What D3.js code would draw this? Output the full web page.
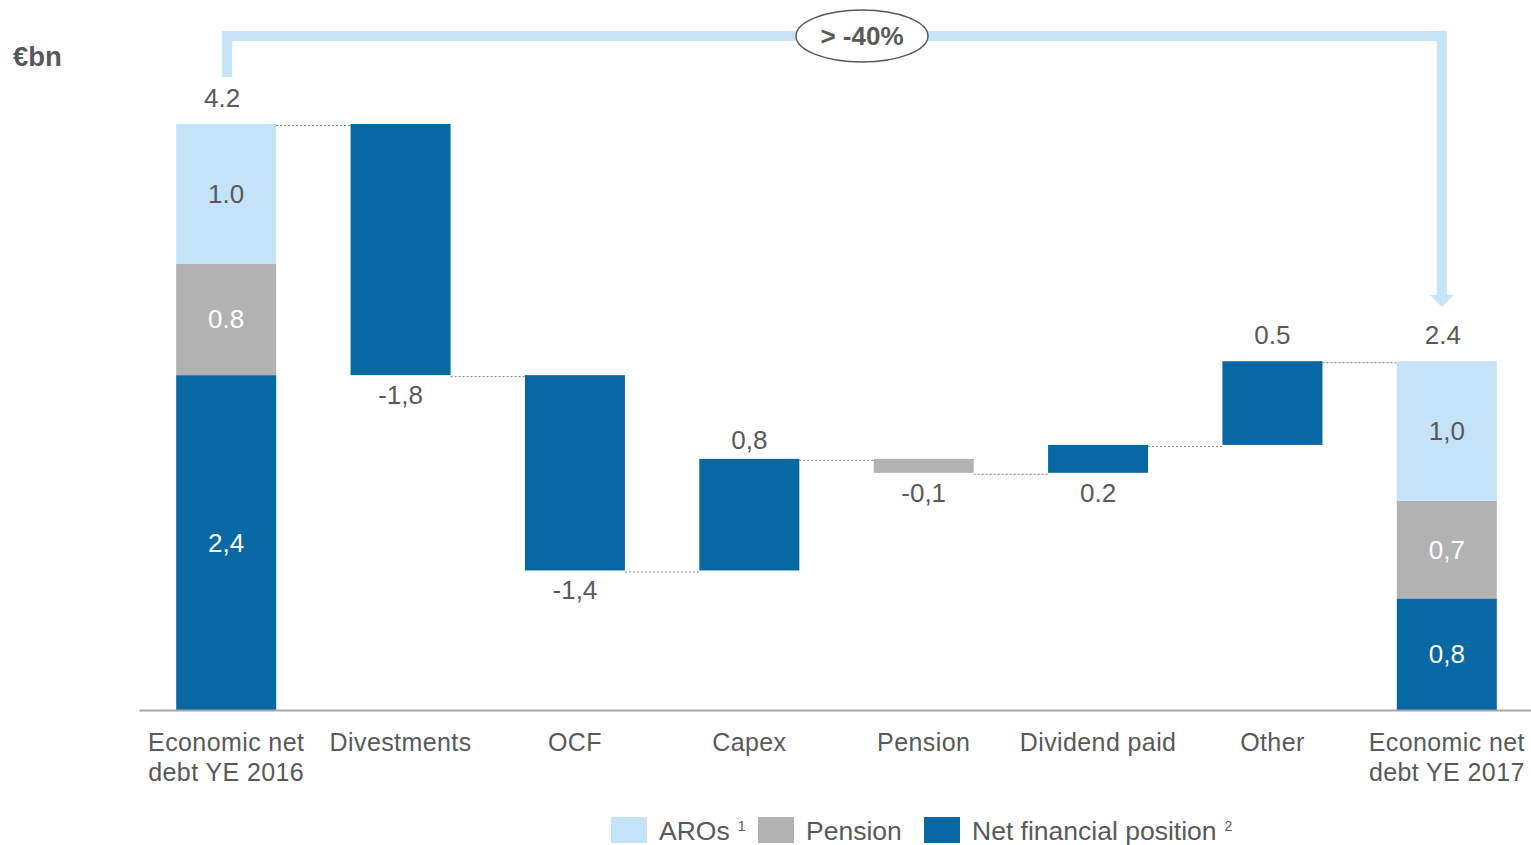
<!DOCTYPE html>
<html>
<head>
<meta charset="utf-8">
<script src="https://cdn.jsdelivr.net/npm/d3@7"></script>
<style>
  html, body { margin: 0; padding: 0; background: #fff; }
  svg { display: block; font-family: "Liberation Sans", Arial, sans-serif; }
</style>
</head>
<body>
<svg id="chart" width="1531" height="845"></svg>
<script>
// ---------------- data ----------------
const categories = ["Economic net debt YE 2016", "Divestments", "OCF", "Capex", "Pension", "Dividend paid", "Other", "Economic net debt YE 2017"];
const tickLines = [["Economic net", "debt YE 2016"], ["Divestments"], ["OCF"], ["Capex"], ["Pension"], ["Dividend paid"], ["Other"], ["Economic net", "debt YE 2017"]];
const barKind = ["total", "delta", "delta", "delta", "delta", "delta", "delta", "total"];

// stacked totals (first and last bars)
const arosValues    = [1.0, null, null, null, null, null, null, 1.0];
const pensionValues = [0.8, null, null, null, null, null, null, 0.7];
const nfpValues     = [2.4, null, null, null, null, null, null, 0.8];
const arosLabels    = ["1.0", null, null, null, null, null, null, "1,0"];
const pensionLabels = ["0.8", null, null, null, null, null, null, "0,7"];
const nfpLabels     = ["2,4", null, null, null, null, null, null, "0,8"];
const totalLabels   = ["4.2", null, null, null, null, null, null, "2.4"];

// bridge movements (as drawn)
const deltaValues = [null, -1.8, -1.4, 0.8, -0.1, 0.2, 0.6, null];
const deltaSeries = [null, "nfp", "nfp", "nfp", "pension", "nfp", "nfp", null];
const deltaLabels = [null, "-1,8", "-1,4", "0,8", "-0,1", "0.2", "0.5", null];

const seriesNames = ["AROs", "Pension", "Net financial position"];
const seriesKeys = ["aros", "pension", "nfp"];
const seriesSup = ["1", "", "2"];
const unitLabel = "€bn";
const changeLabel = "> -40%";
const yMax = 4.2;

// ---------------- drawing ----------------
const colors = { aros: "#C4E3F9", pension: "#B2B2B2", nfp: "#0868A4" };
const textColor = "#595959";
const svg = d3.select("#chart");

const x = d3.scaleBand().domain(categories).range([139, 1534]).paddingInner(0.4265).paddingOuter(0.21325);
const y = d3.scaleLinear().domain([0, yMax]).range([710, 124]);

// build bar segments
const segs = [];
const levels = [];
let running = 0;
categories.forEach((c, i) => {
  if (barKind[i] === "total") {
    let base = 0;
    const parts = [
      { key: "nfp", v: nfpValues[i], label: nfpLabels[i] },
      { key: "pension", v: pensionValues[i], label: pensionLabels[i] },
      { key: "aros", v: arosValues[i], label: arosLabels[i] }
    ];
    parts.forEach(p => {
      segs.push({ cat: c, key: p.key, y0: base, y1: base + p.v, label: p.label, inside: true });
      base += p.v;
    });
    running = base;
    levels.push([0, base]);
  } else {
    const start = running, end = running + deltaValues[i];
    segs.push({ cat: c, key: deltaSeries[i], y0: Math.min(start, end), y1: Math.max(start, end), label: null });
    levels.push([start, end]);
    running = end;
  }
});

// connectors (dotted)
const conn = svg.append("g");
for (let i = 0; i < categories.length - 1; i++) {
  const lvl = levels[i][1];
  conn.append("line")
    .attr("x1", x(categories[i]) + x.bandwidth())
    .attr("x2", x(categories[i + 1]))
    .attr("y1", y(lvl) + 1.5).attr("y2", y(lvl) + 1.5)
    .attr("stroke", "#7f7f7f").attr("stroke-width", 1).attr("stroke-dasharray", "2,2");
}

// bars
svg.append("g").selectAll("rect").data(segs).join("rect")
  .attr("x", d => x(d.cat))
  .attr("width", x.bandwidth())
  .attr("y", d => y(d.y1))
  .attr("height", d => y(d.y0) - y(d.y1))
  .attr("fill", d => colors[d.key]);

// inside labels of stacked totals
svg.append("g").selectAll("text").data(segs.filter(d => d.inside)).join("text")
  .attr("x", d => x(d.cat) + x.bandwidth() / 2)
  .attr("y", d => (y(d.y0) + y(d.y1)) / 2 + 9)
  .attr("text-anchor", "middle")
  .attr("font-size", 26)
  .attr("fill", d => d.key === "aros" ? textColor : "#ffffff")
  .text(d => d.label);

// total labels above
categories.forEach((c, i) => {
  if (barKind[i] === "total") {
    svg.append("text")
      .attr("x", x(c) + x.bandwidth() / 2 - 4)
      .attr("y", y(levels[i][1]) - 17)
      .attr("text-anchor", "middle").attr("font-size", 26).attr("fill", textColor)
      .text(totalLabels[i]);
  }
});

// delta labels
const below = new Set(["Divestments", "OCF", "Pension", "Dividend paid"]);
categories.forEach((c, i) => {
  if (barKind[i] !== "delta") return;
  const top = Math.max(levels[i][0], levels[i][1]);
  const bot = Math.min(levels[i][0], levels[i][1]);
  const isBelow = below.has(c);
  svg.append("text")
    .attr("x", x(c) + x.bandwidth() / 2)
    .attr("y", isBelow ? y(bot) + 29 : y(top) - (c === "Capex" ? 10 : 17))
    .attr("text-anchor", "middle").attr("font-size", 26).attr("fill", textColor)
    .text(deltaLabels[i]);
});

// x axis
const xAxis = d3.axisBottom(x).tickSize(0).tickFormat("");
const ax = svg.append("g").attr("transform", "translate(0,710)").call(xAxis);
ax.select(".domain").attr("stroke", "#A6A6A6").attr("stroke-width", 2);
ax.selectAll(".tick").each(function (d, i) {
  const t = d3.select(this).append("text")
    .attr("text-anchor", "middle").attr("font-size", 25).attr("letter-spacing", "0.4px")
    .attr("fill", textColor).attr("y", 41);
  tickLines[i].forEach((line, k) => {
    t.append("tspan").attr("x", 0).attr("dy", k === 0 ? 0 : 30).text(line);
  });
});

// unit label
svg.append("text").attr("x", 13).attr("y", 66)
  .attr("font-size", 27.5).attr("font-weight", "bold").attr("fill", textColor)
  .text(unitLabel);

// bracket arrow from first to last total
const xl = x(categories[0]) + x.bandwidth() / 2 + 1;
const xr = x(categories[categories.length - 1]) + x.bandwidth() / 2 - 5;
const bracketColor = "#C6E4F8";
svg.append("path")
  .attr("d", `M${xl},77 V36 H${xr} V296`)
  .attr("fill", "none").attr("stroke", bracketColor).attr("stroke-width", 10);
svg.append("path")
  .attr("d", `M${xr - 12},295 L${xr + 12},295 L${xr},307 Z`)
  .attr("fill", bracketColor);

// ellipse with change label
const ex = 862, ey = 36;
svg.append("ellipse").attr("cx", ex).attr("cy", ey).attr("rx", 66).attr("ry", 26)
  .attr("fill", "#ffffff").attr("stroke", "#595959").attr("stroke-width", 1.5);
svg.append("text").attr("x", ex).attr("y", ey + 9)
  .attr("text-anchor", "middle").attr("font-size", 26).attr("font-weight", "bold")
  .attr("fill", textColor)
  .text(changeLabel);

// legend
const legend = svg.append("g");
const legendX = [611, 758, 924];
seriesKeys.forEach((k, i) => {
  const g = legend.append("g").attr("transform", `translate(${legendX[i]},817)`);
  g.append("rect").attr("width", 36).attr("height", 26).attr("fill", colors[k]);
  const t = g.append("text").attr("x", 48).attr("y", 23)
    .attr("font-size", 26.5).attr("fill", textColor).text(seriesNames[i]);
  if (seriesSup[i]) {
    t.append("tspan").attr("dx", 8).attr("dy", -9).attr("font-size", 14).text(seriesSup[i]);
  }
});
</script>
</body>
</html>
